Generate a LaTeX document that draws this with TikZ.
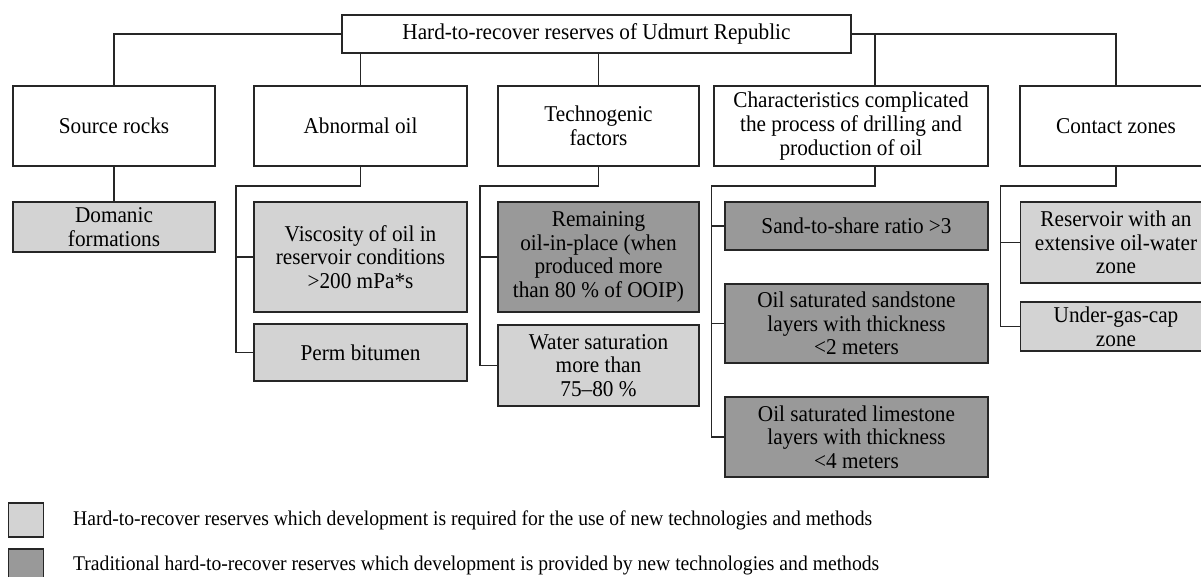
\documentclass[tikz,border=0pt]{standalone}
\usepackage{fontspec}
\setmainfont{Liberation Serif}[FakeStretch=0.94]
\usetikzlibrary{positioning}
\definecolor{lightres}{RGB}{211,211,211}
\definecolor{darkres}{RGB}{153,153,153}

\begin{document}
\begin{tikzpicture}[
    x=1pt, y=-1pt,
    line width=1.2pt,
    draw=black!85,
    box/.style 2 args={draw=black!85, align=center, inner sep=0pt, outer sep=0pt,
        minimum width=#1, minimum height=#2,
        font=\fontsize{22.6}{23.7}\selectfont},
    light/.style={fill=lightres},
    dark/.style={fill=darkres},
    legtext/.style={align=left, inner sep=0pt, font=\fontsize{20.9}{22}\selectfont}
]
\useasboundingbox (0,0) rectangle (1201,577);

% Groups
\node[box={202pt}{80pt}]                      (SRC) at (114,126) {Source rocks};
\node[box={213pt}{80pt}, right=39pt of SRC]   (ABN) {Abnormal oil};
\node[box={201pt}{80pt}, right=31pt of ABN]   (TEC) {Technogenic\\factors};
\node[box={274pt}{80pt}, right=15pt of TEC]   (CHR) {Characteristics complicated\\the process of drilling and\\production of oil};
\node[box={192pt}{80pt}, right=32pt of CHR]   (CON) {Contact zones};
\node[box={509pt}{38pt}, above=33pt of TEC, xshift=-2pt] (TOP) {Hard-to-recover reserves of Udmurt Republic};

% Reserves
\node[box={202pt}{50pt}, light, below=36pt of SRC] (DOM) {Domanic\\formations};
\node[box={213pt}{110pt}, light, below=36pt of ABN] (VIS) {Viscosity of oil in\\reservoir conditions\\>200 mPa*s};
\node[box={213pt}{57pt}, light, below=12pt of VIS]  (PRM) {Perm bitumen};
\node[box={201pt}{110pt}, dark, below=36pt of TEC]  (REM) {Remaining\\oil-in-place (when\\produced more\\than 80 \% of OOIP)};
\node[box={201pt}{81pt}, light, below=13pt of REM]  (WAT) {Water saturation\\more than\\75--80 \%};
\node[box={263pt}{48pt}, dark, below left=36pt and 0pt of CHR.south east] (SND) {Sand-to-share ratio >3};
\node[box={263pt}{79pt}, dark, below=34pt of SND]   (SST) {Oil saturated sandstone\\layers with thickness\\<2 meters};
\node[box={263pt}{80pt}, dark, below=34pt of SST]   (LIM) {Oil saturated limestone\\layers with thickness\\<4 meters};
\node[box={191pt}{81pt}, light, below=36pt of CON]  (RES) {Reservoir with an\\extensive oil-water\\zone};
\node[box={191pt}{49pt}, light, below=19pt of RES]  (GAS) {Under-gas-cap\\zone};

% Links
\draw (TOP.west) -| (SRC.north);
\draw (TOP.east) -| (CON.north);
\draw ([xshift=24pt]CHR.north) |- (TOP.east);
\draw (TOP.south -| ABN.north) -- (ABN.north);
\draw (TOP.south -| TEC.north) -- (TEC.north);
\draw (SRC.south) -- (DOM.north);
\draw (ABN.south) -- ++(0,-20pt) -| ([xshift=-18pt]PRM.west) -- (PRM.west);
\draw ([xshift=-18pt]VIS.west) -- (VIS.west);
\draw (TEC.south) -- ++(0,-20pt) -| ([xshift=-18pt]WAT.west) -- (WAT.west);
\draw ([xshift=-18pt]REM.west) -- (REM.west);
\draw ([xshift=24pt]CHR.south) -- ++(0,-20pt) -| ([xshift=-13.5pt]LIM.west) -- (LIM.west);
\draw ([xshift=-13.5pt]SND.west) -- (SND.west);
\draw ([xshift=-13.5pt]SST.west) -- (SST.west);
\draw (CON.south) -- ++(0,-20pt) -| ([xshift=-20pt]GAS.west) -- (GAS.west);
\draw ([xshift=-20pt]RES.west) -- (RES.west);

% Legend
\node[box={35pt}{34pt}, light]                  (KEYL) at (26,520) {};
\node[box={35pt}{34pt}, dark, below=12pt of KEYL] (KEYD) {};
\node[legtext, right=29pt of KEYL] (TXTL) {Hard-to-recover reserves which development is required for the use of new technologies and methods};
\node[legtext, right=29pt of KEYD] (TXTD) {Traditional hard-to-recover reserves which development is provided by new technologies and methods};

\end{tikzpicture}
\end{document}
